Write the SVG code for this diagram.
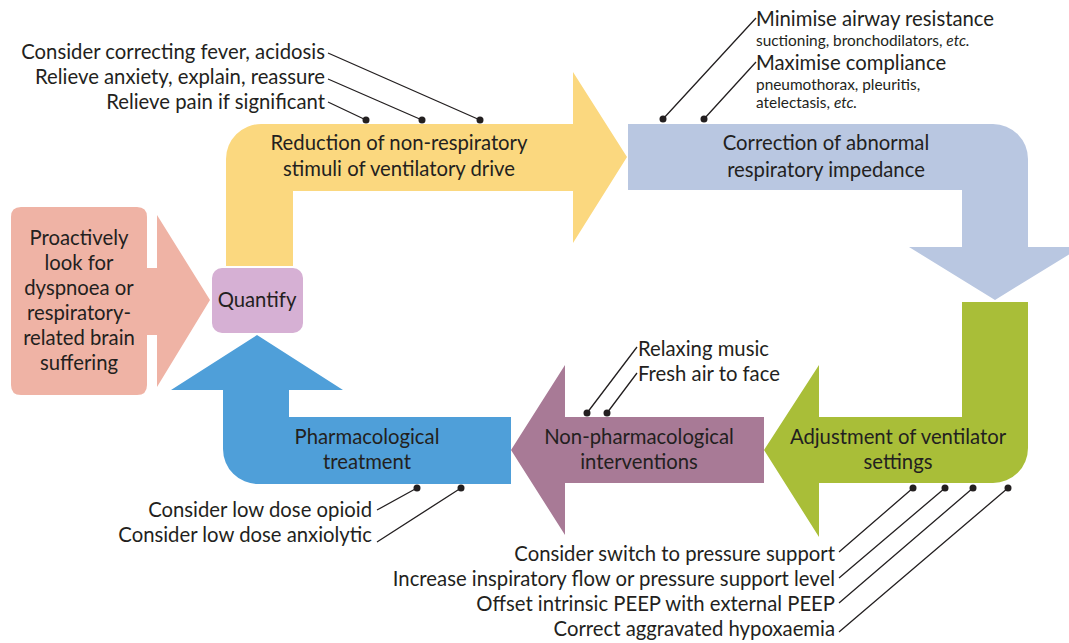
<svg xmlns="http://www.w3.org/2000/svg" width="1069" height="643" viewBox="0 0 1069 643">
<style>
text{font-family:Lato,"Open Sans","Liberation Sans",sans-serif;fill:#231f20;font-size:20.3px}
.c{text-anchor:middle}
.r{text-anchor:end}
.s{font-size:15.4px}
.ln{stroke:#231f20;stroke-width:1.3;fill:none}
.dot{fill:#231f20}
</style>
<rect width="1069" height="643" fill="#ffffff"/>
<g id="proactive">
<path d="M21,207 H137 Q147,207 147,217 V268 H157 V215 L210,300 L157,387 V335 H147 V385 Q147,395 137,395 H21 Q11,395 11,385 V217 Q11,207 21,207 Z" fill="#efb3a5"/>
<text class="c" x="79" y="245">Proactively</text>
<text class="c" x="79" y="270">look for</text>
<text class="c" x="79" y="295">dyspnoea or</text>
<text class="c" x="79" y="320">respiratory-</text>
<text class="c" x="79" y="345">related brain</text>
<text class="c" x="79" y="370">suffering</text>
</g>
<g id="quantify">
<rect x="212" y="268" width="91" height="65" rx="10" fill="#d6b0d4"/>
<text class="c" x="257" y="307">Quantify</text>
</g>
<g id="reduction">
<path d="M226,266 V159 A35,35 0 0 1 261,124 H573 V72 L627,157 L573,243 V191 H293 V266 Z" fill="#fbd87f"/>
<text class="c" x="399" y="150">Reduction of non-respiratory</text>
<text class="c" x="399" y="176">stimuli of ventilatory drive</text>
</g>
<g id="correction">
<path d="M628,124 H993 A35,35 0 0 1 1028,159 V247 H1081 L995,300 L909,247 H962 V190 H628 Z" fill="#b9c7e1"/>
<text class="c" x="826" y="150">Correction of abnormal</text>
<text class="c" x="826" y="177">respiratory impedance</text>
</g>
<g id="adjustment">
<path d="M962,302 H1028 V448 A35,35 0 0 1 993,483 H819 V537 L764,450 L819,365 V417 H962 Z" fill="#a9be38"/>
<text class="c" x="898" y="444">Adjustment of ventilator</text>
<text class="c" x="898" y="469">settings</text>
</g>
<g id="nonpharm">
<path d="M764,417 V483 H565 V535 L511,450 L565,365 V417 Z" fill="#a87a96"/>
<text class="c" x="639" y="444">Non-pharmacological</text>
<text class="c" x="639" y="469">interventions</text>
</g>
<g id="pharm">
<path d="M511,417 V484 H258 A35,35 0 0 1 223,449 V390 H171 L257,335 L343,390 H289 V417 Z" fill="#4f9fd9"/>
<text class="c" x="367" y="444">Pharmacological</text>
<text class="c" x="367" y="469">treatment</text>
</g>
<g id="labels">
<text class="r" x="325" y="59">Consider correcting fever, acidosis</text>
<text class="r" x="325" y="84">Relieve anxiety, explain, reassure</text>
<text class="r" x="325" y="109">Relieve pain if significant</text>
<text x="756" y="26">Minimise airway resistance</text>
<text class="s" x="756" y="46">suctioning, bronchodilators, <tspan font-style="italic">etc.</tspan></text>
<text x="756" y="70">Maximise compliance</text>
<text class="s" x="756" y="90">pneumothorax, pleuritis,</text>
<text class="s" x="756" y="108">atelectasis, <tspan font-style="italic">etc.</tspan></text>
<text x="638" y="356">Relaxing music</text>
<text x="638" y="381">Fresh air to face</text>
<text class="r" x="372" y="517">Consider low dose opioid</text>
<text class="r" x="372" y="542">Consider low dose anxiolytic</text>
<text class="r" x="835" y="561">Consider switch to pressure support</text>
<text class="r" x="835" y="586">Increase inspiratory flow or pressure support level</text>
<text class="r" x="835" y="611">Offset intrinsic PEEP with external PEEP</text>
<text class="r" x="835" y="636">Correct aggravated hypoxaemia</text>
</g>
<g id="connectors">
<path class="ln" d="M328,53 L480,120 M328,79 L422,120 M328,102 L366,120"/>
<circle class="dot" cx="480" cy="120" r="3.5"/>
<circle class="dot" cx="422" cy="120" r="3.5"/>
<circle class="dot" cx="366" cy="120" r="3.5"/>
<path class="ln" d="M756,18 L663,119 M756,62 L704,119"/>
<circle class="dot" cx="663" cy="119" r="3.5"/>
<circle class="dot" cx="704" cy="119" r="3.5"/>
<path class="ln" d="M637,347 L587,413 M637,373 L607,413"/>
<circle class="dot" cx="587" cy="413" r="3.5"/>
<circle class="dot" cx="607" cy="413" r="3.5"/>
<path class="ln" d="M377,510 L417,488 M377,542 L461,488"/>
<circle class="dot" cx="417" cy="488" r="3.5"/>
<circle class="dot" cx="461" cy="488" r="3.5"/>
<path class="ln" d="M839,552 L913,488 M839,578 L945,488 M839,603 L973,488 M839,632 L1008,488"/>
<circle class="dot" cx="913" cy="488" r="3.5"/>
<circle class="dot" cx="945" cy="488" r="3.5"/>
<circle class="dot" cx="973" cy="488" r="3.5"/>
<circle class="dot" cx="1008" cy="488" r="3.5"/>
</g>
</svg>
